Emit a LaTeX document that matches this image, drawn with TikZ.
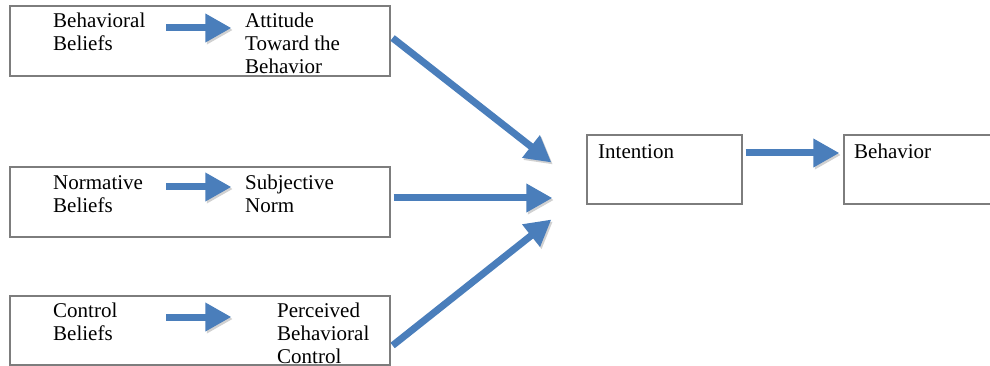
\documentclass[tikz,border=0pt]{standalone}
\usepackage{fontspec}
\setmainfont{Liberation Serif}
\usetikzlibrary{arrows.meta,positioning}
\definecolor{arrowblue}{RGB}{74,126,187}
\definecolor{boxgray}{RGB}{125,125,125}

\begin{document}
\begin{tikzpicture}[x=1pt,y=-1pt,
                    box/.style={rectangle,draw=boxgray,line width=1.2pt,inner sep=0pt},
                    label/.style={anchor=north west,inner sep=0pt,align=left,
                      font=\fontsize{21}{23}\selectfont},
                    fat/.style={draw=arrowblue,line width=7pt,
                      -{Triangle[length=26pt,width=27pt]},
                      preaction={draw=black!18,transform canvas={shift={(1.5pt,-2pt)}}}}]

                  \useasboundingbox (0,0) rectangle (990,366);
                  \clip (0,0) rectangle (990,366);

                  % Left column: the three belief boxes
                  \node (bbox) [box,minimum width=380pt,minimum height=70pt] at (200,41) {};
                  \node (nbox) [box,minimum width=380pt,minimum height=70pt] at (200,202) {};
                  \node (cbox) [box,minimum width=380pt,minimum height=69pt] at (200,330.5) {};

                  \node (bbel) [label] at (53,12.5) {Behavioral\\Beliefs};
                  \node (att) [label] at (245,12.5) {Attitude\\Toward the\\Behavior};
                  \node (nbel) [label] at (53,175) {Normative\\Beliefs};
                  \node (sn) [label] at (245,174.5) {Subjective\\Norm};
                  \node (cbel) [label] at (53,302.5) {Control\\Beliefs};
                  \node (pbc) [label] at (277,302.5) {Perceived\\Behavioral\\Control};

                  % Right: intention and behavior
                  \node (int) [box,minimum width=155pt,minimum height=69pt] at (664.5,169.5) {};
                  \node (beh) [box,minimum width=200pt,minimum height=69pt] at (944,169.5) {};
                  \node (intl) [label] at (598,144) {Intention};
                  \node (behl) [label] at (854,144) {Behavior};

                  \draw [fat] ([shift={(157,-13)}]bbox.west) -- ([shift={(222,-13)}]bbox.west);
                  \draw [fat] ([shift={(157,-15)}]nbox.west) -- ([shift={(222,-15)}]nbox.west);
                  \draw [fat] ([shift={(157,-13.5)}]cbox.west) -- ([shift={(222,-13.5)}]cbox.west);

                  \draw [fat] ([shift={(2,-3)}]bbox.east) -- ([shift={(-35,-7)}]int.west);
                  \draw [fat] ([shift={(3,-4)}]nbox.east) -- ([shift={(-34,28.5)}]int.west);
                  \draw [fat] ([shift={(2,15)}]cbox.east) -- ([shift={(-35,50)}]int.west);
                  \draw [fat] ([shift={(3,-16.5)}]int.east) -- ([shift={(-4,-16.5)}]beh.west);
                \end{tikzpicture}
\end{document}
